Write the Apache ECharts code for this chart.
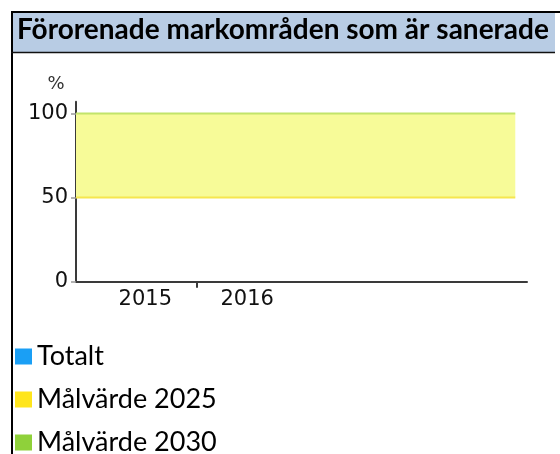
<!DOCTYPE html>
<html>
<head>
<meta charset="utf-8">
<script src="https://cdn.jsdelivr.net/npm/echarts@6/dist/echarts.min.js"></script>
<style>
html,body{margin:0;padding:0;background:#fff;}
#chart{width:560px;height:454px;}
</style>
</head>
<body>
<div id="chart"></div>
<script>
// ---- data ----
var titleText = 'Förorenade markområden som är sanerade';
var years = [2015, 2016];
var totalt = [null, null];
var legendNames = ['Totalt', 'Målvärde 2025', 'Målvärde 2030'];
var target2025 = 50;
var target2030 = 100;
var targetSpan = [2014.32, 2018.63];   // x-extent of target band (in year units)
var xRange = [2014.32, 2018.745];
var yTicks = [0, 50, 100];
var xTickBetween = [2015.5];
var yMax = 107;

var chart = echarts.init(document.getElementById('chart'), null, {renderer: 'canvas'});

var option = {
  animation: false,
  backgroundColor: '#ffffff',
  grid: { left: 76, right: 33, top: 101.7, bottom: 172.3, containLabel: false },
  xAxis: {
    type: 'value',
    min: xRange[0], max: xRange[1],
    splitLine: { show: false },
    axisLine: { lineStyle: { color: '#3a3a3a', width: 2 } },
    axisTick: { show: true, customValues: xTickBetween, length: 6, lineStyle: { color: '#3a3a3a', width: 2 } },
    axisLabel: { customValues: years, color: '#111', fontFamily: 'DejaVu Sans', fontSize: 21, margin: 7,
                 formatter: function (v) { return String(Math.round(v)); } }
  },
  yAxis: {
    type: 'value',
    min: 0, max: yMax,
    name: '%',
    nameLocation: 'end',
    nameGap: 8,
    nameTextStyle: { color: '#333', fontFamily: 'DejaVu Sans', fontSize: 18, align: 'center', padding: [0, 40, 0, 0] },
    splitLine: { show: false },
    axisLine: { show: true, lineStyle: { color: '#3a3a3a', width: 2 } },
    axisTick: { show: true, customValues: yTicks, length: 5, lineStyle: { color: '#999', width: 1.5 } },
    axisLabel: { customValues: yTicks, color: '#111', fontFamily: 'DejaVu Sans', fontSize: 21, margin: 8 }
  },
  legend: {
    orient: 'vertical',
    left: 15, top: 343,
    width: 300, height: 130,
    padding: 0,
    icon: 'rect',
    itemWidth: 17, itemHeight: 16,
    itemGap: 16,
    selectedMode: false,
    data: legendNames,
    textStyle: { color: '#000', fontFamily: 'Lato', fontSize: 27, lineHeight: 26 }
  },
  series: [
    {
      name: legendNames[0], type: 'line',
      color: '#1a9ff5',
      data: years.map(function (y, i) { return [y, totalt[i]]; }),
      showSymbol: false
    },
    {
      name: legendNames[1], type: 'line',
      color: '#ffe51c',
      lineStyle: { color: '#f6e64e', width: 2 },
      showSymbol: false, silent: true,
      data: targetSpan.map(function (x) { return [x, target2025]; }),
      z: 3,
      markArea: {
        silent: true,
        itemStyle: { color: '#f7fb98' },
        data: [[ { xAxis: targetSpan[0], yAxis: target2025 }, { xAxis: targetSpan[1], yAxis: target2030 } ]]
      }
    },
    {
      name: legendNames[2], type: 'line',
      color: '#8fd13a',
      lineStyle: { color: '#c2e46a', width: 2 },
      showSymbol: false, silent: true,
      data: targetSpan.map(function (x) { return [x, target2030]; }),
      z: 3
    }
  ],
  graphic: [
    { type: 'rect', shape: { x: 12, y: 12, width: 543, height: 41 }, style: { fill: '#b8cce4' }, z: 0 },
    { type: 'line', shape: { x1: 11, y1: 12, x2: 560, y2: 12 }, style: { stroke: '#000', lineWidth: 2 } },
    { type: 'line', shape: { x1: 12, y1: 12, x2: 12, y2: 454 }, style: { stroke: '#000', lineWidth: 2 } },
    { type: 'line', shape: { x1: 11, y1: 52.5, x2: 555, y2: 52.5 }, style: { stroke: '#111', lineWidth: 1.5 } },
    { type: 'text', left: 17, top: 16,
      style: { text: titleText, fill: '#000', font: 'bold 28px Lato' } }
  ]
};
chart.setOption(option);
</script>
</body>
</html>
